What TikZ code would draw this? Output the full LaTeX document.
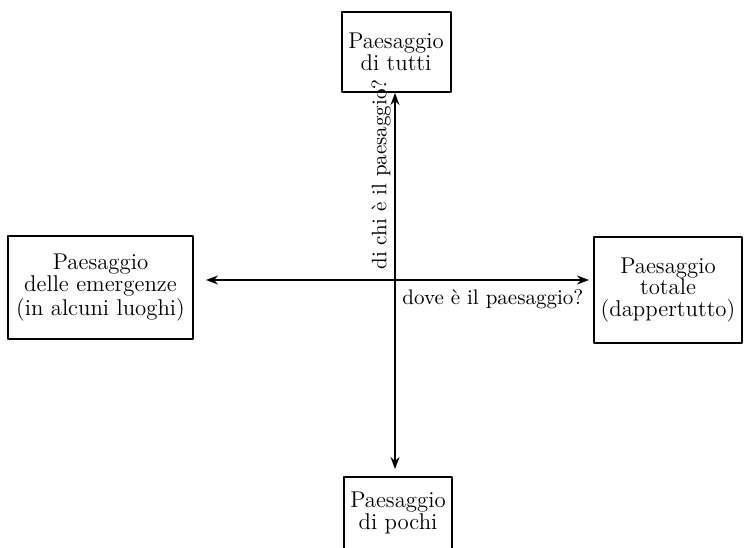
\documentclass[tikz,border=0pt]{standalone}
\usepackage{tikz}
\usetikzlibrary{arrows.meta}

\begin{document}
\begin{tikzpicture}[x=0.5pt,y=0.5pt,line cap=round,line join=round,
  box/.style={draw,line width=1pt,align=center,inner sep=0pt,
    font=\fontsize{11.4}{10.8}\selectfont},
  axis/.style={line width=0.7pt,{Stealth[length=6pt,width=4.5pt]}-{Stealth[length=6pt,width=4.5pt]}},
  lbl/.style={inner sep=0pt,font=\fontsize{10.5}{12}\selectfont}]
\useasboundingbox (0,0) rectangle (745,547);
% boxes
\node[box,minimum width=109*0.5pt,minimum height=80*0.5pt] (tutti) at (396,495) {Paesaggio\\di tutti};
\node[box,minimum width=108*0.5pt,minimum height=72*0.5pt] (pochi) at (398,34) {Paesaggio\\di pochi};
\node[box,minimum width=185*0.5pt,minimum height=103*0.5pt] (emergenze) at (100.5,259.5) {Paesaggio\\delle emergenze\\(in alcuni luoghi)};
\node[box,minimum width=148*0.5pt,minimum height=106*0.5pt] (totale) at (668,257) {Paesaggio\\totale\\(dappertutto)};
% axes
\coordinate (o) at (395,267);
\draw[axis,shorten >=7pt*0.5] (o |- tutti.south) -- (o |- pochi.north);
\draw[axis,shorten <=12pt*0.5,shorten >=4pt*0.5] (o -| emergenze.east) -- (o -| totale.west);
\node[lbl,rotate=90,anchor=south west] (chi) at ([shift={(-4,10)}]o) {di chi è il paesaggio?};
\node[lbl,anchor=north west] (dove) at ([shift={(7,-9)}]o) {dove è il paesaggio?};
\end{tikzpicture}
\end{document}
